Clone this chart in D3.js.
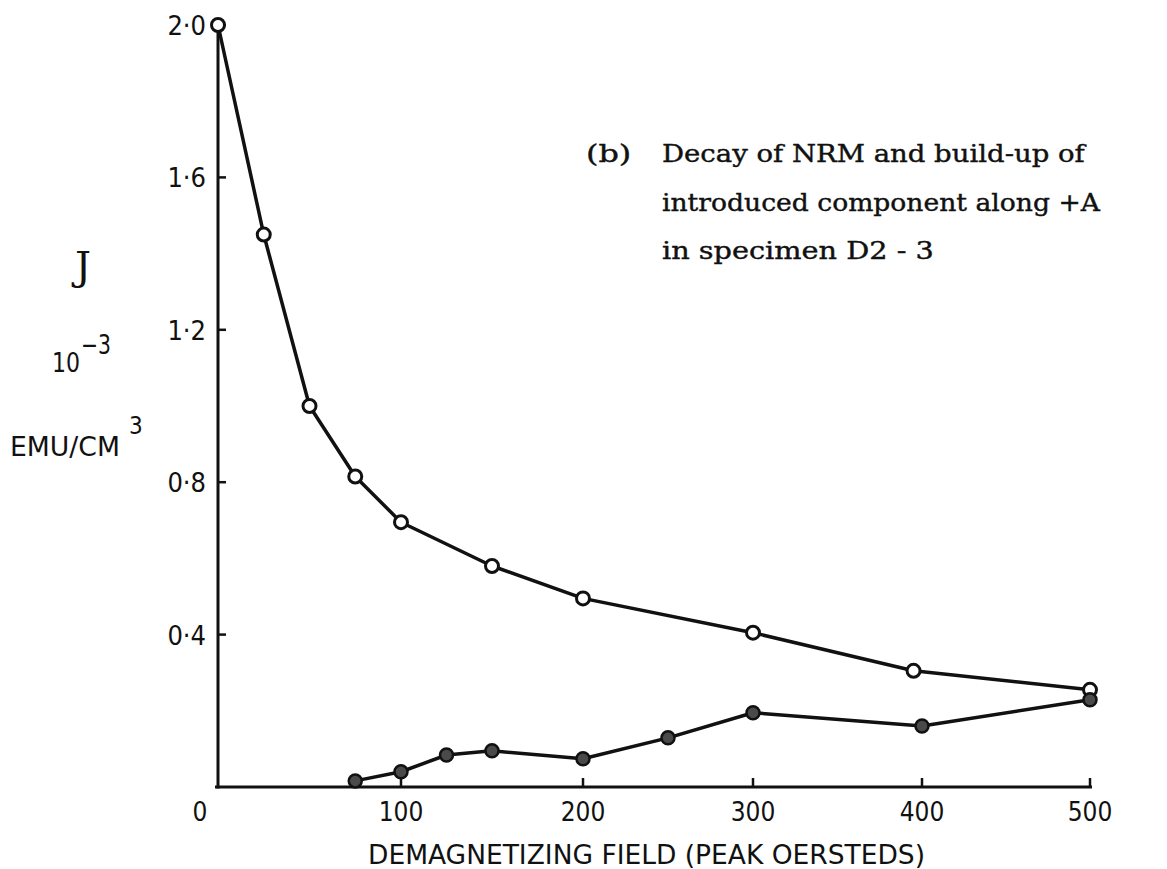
<!DOCTYPE html>
<html>
<head>
<meta charset="utf-8">
<script src="https://cdn.jsdelivr.net/npm/d3@7"></script>
<style>
  html, body { margin: 0; padding: 0; background: #fff; }
  svg { display: block; }
  .lbl { font-family: "DejaVu Sans Condensed", "DejaVu Sans", sans-serif; fill: #111; }
  .tw { font-family: "DejaVu Serif", "Liberation Serif", serif; fill: #111; stroke: #111; stroke-width: 0.4; }
</style>
</head>
<body>
<svg id="chart" width="1167" height="869"></svg>
<script>
// ---- data ----
const nrmField = [0, 25, 50, 75, 100, 150, 200, 300, 395, 500];
const nrmJ     = [2.0, 1.45, 1.0, 0.815, 0.695, 0.58, 0.495, 0.405, 0.305, 0.255];
const introField = [75, 100, 125, 150, 200, 250, 300, 400, 500];
const introJ     = [0.016, 0.04, 0.084, 0.095, 0.074, 0.129, 0.195, 0.16, 0.229];
const xTicks = [0, 100, 200, 300, 400, 500];
const yTicks = [0.4, 0.8, 1.2, 1.6, 2.0];
const yTickLabels = ["0·4", "0·8", "1·2", "1·6", "2·0"];
const xTitle = "DEMAGNETIZING FIELD (PEAK OERSTEDS)";
const noteTag = "(b)";
const noteLines = ["Decay of NRM and build-up of", "introduced component along +A", "in specimen D2 - 3"];

// ---- layout ----
const svg = d3.select("#chart");
const x = d3.scaleLinear().domain(xTicks).range([218, 401, 583, 753, 922, 1090]);
const y = d3.scaleLinear().domain([0, 2.0]).range([787, 25]);

const ink = "#111";

// axes lines
svg.append("line").attr("x1", 215).attr("x2", x(500) + 2).attr("y1", y(0)).attr("y2", y(0))
  .attr("stroke", ink).attr("stroke-width", 3);
svg.append("line").attr("x1", x(0)).attr("x2", x(0)).attr("y1", y(0) + 1.5).attr("y2", y(2.0))
  .attr("stroke", ink).attr("stroke-width", 3);

// y ticks (inward to the right)
svg.selectAll(".ytick").data(yTicks).enter().append("line")
  .attr("x1", x(0)).attr("x2", x(0) + 8)
  .attr("y1", d => y(d)).attr("y2", d => y(d))
  .attr("stroke", ink).attr("stroke-width", 2.5);
svg.selectAll(".ylab").data(yTicks).enter().append("text")
  .attr("class", "lbl")
  .attr("x", x(0) - 12).attr("y", d => y(d) + 10)
  .attr("text-anchor", "end").attr("font-size", 27)
  .text((d, i) => yTickLabels[i]);

// x ticks (upward)
svg.selectAll(".xtick").data(xTicks.filter(d => d > 0)).enter().append("line")
  .attr("x1", d => x(d)).attr("x2", d => x(d))
  .attr("y1", y(0)).attr("y2", y(0) - 9)
  .attr("stroke", ink).attr("stroke-width", 2.5);
svg.selectAll(".xlab").data(xTicks).enter().append("text")
  .attr("class", "lbl")
  .attr("x", d => d === 0 ? x(d) - 18 : x(d)).attr("y", 821)
  .attr("text-anchor", "middle").attr("font-size", 26)
  .text(d => d);

// x title
svg.append("text").attr("class", "lbl")
  .attr("x", 368).attr("y", 864).attr("font-size", 26)
  .attr("textLength", 557).attr("lengthAdjust", "spacingAndGlyphs")
  .text(xTitle);

// y axis label
svg.append("text").attr("x", 83).attr("y", 280).attr("text-anchor", "middle")
  .attr("font-family", "DejaVu Serif, serif").attr("font-size", 40).attr("fill", ink)
  .text("J");
svg.append("text").attr("class", "lbl").attr("x", 52).attr("y", 372).attr("font-size", 27)
  .attr("textLength", 28).attr("lengthAdjust", "spacingAndGlyphs").text("10");
svg.append("text").attr("class", "lbl").attr("x", 81).attr("y", 354).attr("font-size", 26)
  .attr("textLength", 30).attr("lengthAdjust", "spacingAndGlyphs").text("\u22123");
svg.append("text").attr("class", "lbl").attr("x", 10).attr("y", 456).attr("font-size", 27)
  .attr("textLength", 110).attr("lengthAdjust", "spacingAndGlyphs").text("EMU/CM");
svg.append("text").attr("class", "lbl").attr("x", 129).attr("y", 434).attr("font-size", 24)
  .text("3");

// annotation (typewriter)
const charW = 15.1;
svg.append("text").attr("class", "tw").attr("x", 586).attr("y", 162).attr("font-size", 24)
  .attr("textLength", noteTag.length * charW).attr("lengthAdjust", "spacingAndGlyphs").text(noteTag);
noteLines.forEach((t, i) => {
  svg.append("text").attr("class", "tw").attr("x", 662).attr("y", 162 + i * 48.5)
    .attr("font-size", 24)
    .attr("textLength", t.length * charW).attr("lengthAdjust", "spacingAndGlyphs")
    .text(t);
});

// series
const nrm = nrmField.map((f, i) => ({ f, j: nrmJ[i] }));
const intro = introField.map((f, i) => ({ f, j: introJ[i] }));
const line = d3.line().x(d => x(d.f)).y(d => y(d.j));

svg.append("path").datum(nrm).attr("d", line)
  .attr("fill", "none").attr("stroke", ink).attr("stroke-width", 3.5).attr("stroke-linejoin", "round");
svg.append("path").datum(intro).attr("d", line)
  .attr("fill", "none").attr("stroke", ink).attr("stroke-width", 3.5).attr("stroke-linejoin", "round");

svg.selectAll(".open").data(nrm).enter().append("circle")
  .attr("cx", d => x(d.f)).attr("cy", d => y(d.j)).attr("r", 6.5)
  .attr("fill", "#fff").attr("stroke", ink).attr("stroke-width", 3);
svg.selectAll(".filled").data(intro).enter().append("circle")
  .attr("cx", d => x(d.f)).attr("cy", d => y(d.j)).attr("r", 6.5)
  .attr("fill", "#4a4a4a").attr("stroke", ink).attr("stroke-width", 2.5);
</script>
</body>
</html>
